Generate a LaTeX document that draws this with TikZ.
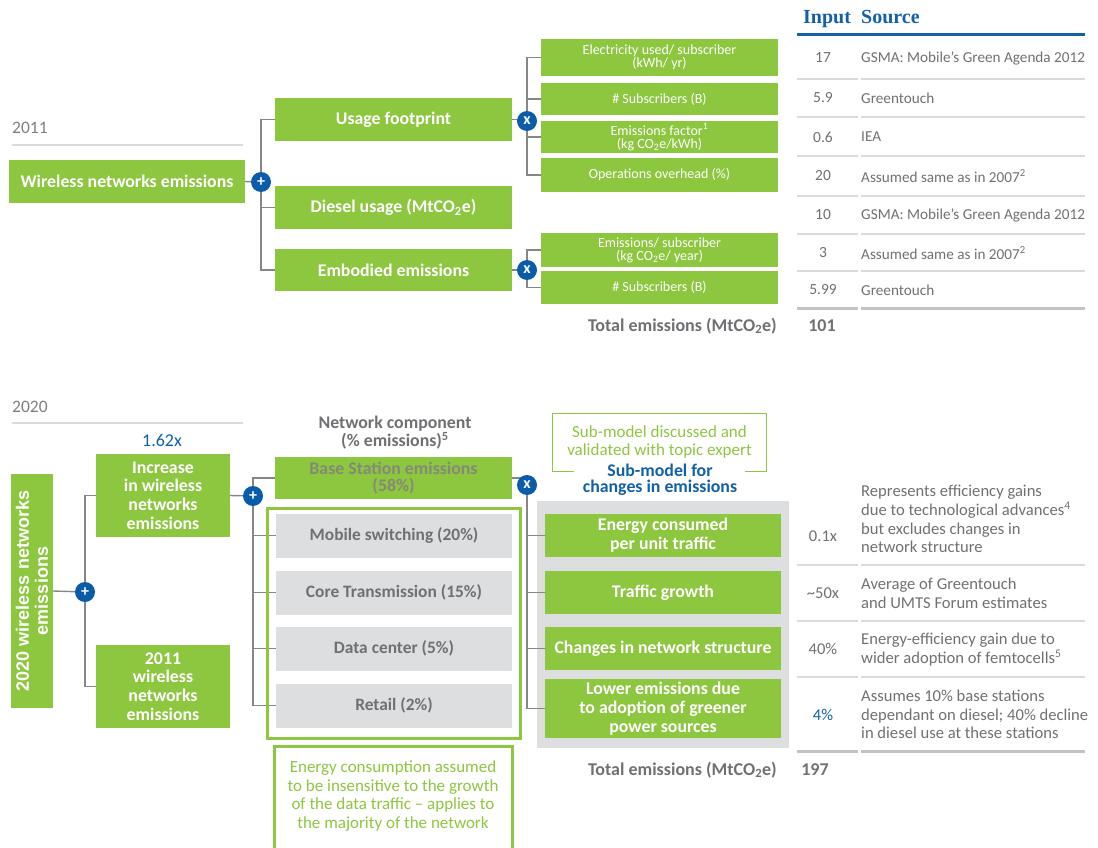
\documentclass[tikz,border=0pt]{standalone}
\usepackage{fontspec}
\setmainfont{Carlito}
\newfontfamily\arialf{Liberation Sans}
\newfontfamily\serff{Liberation Serif}
\usetikzlibrary{calc}
\definecolor{bgreen}{HTML}{8DC63F}
\definecolor{cblue}{HTML}{0A5CA8}
\definecolor{tblue}{HTML}{1260A8}
\definecolor{tgrey}{HTML}{6F7073}
\definecolor{ygrey}{HTML}{7D7E81}
\definecolor{lgrey}{HTML}{DDDEDF}
\definecolor{cgrey}{HTML}{85868A}
\definecolor{rgrey}{HTML}{DADBDC}
\definecolor{bgrey}{HTML}{C2C3C5}
\definecolor{bsgrey}{HTML}{858A78}
\pgfdeclarelayer{back}
\pgfdeclarelayer{wires}
\pgfsetlayers{back,wires,main}
\newcommand{\fsz}[2]{\fontsize{#1}{#2}\selectfont}
\tikzset{
  gb/.style={fill=bgreen,text=white,inner sep=0pt,align=center,font=\bfseries\fsz{17.8}{18.8}},
  sb/.style={fill=bgreen,text=white,inner sep=0pt,align=center,font=\fsz{14}{13},minimum width=237},
  gr/.style={fill=lgrey,text=tgrey,inner sep=0pt,align=center,font=\bfseries\fsz{17.4}{18},minimum width=236,minimum height=44},
  op/.style={circle,fill=cblue,text=white,inner sep=0pt,minimum size=20,font=\bfseries\fsz{16}{16}},
  wire/.style={draw=cgrey,line width=1.4},
  trule/.style={draw=rgrey,line width=2.2},
  brule/.style={draw=bgrey,line width=3},
  yrule/.style={draw=rgrey,line width=2.6},
  tv/.style={text=tgrey,font=\fsz{15.5}{15.5},inner sep=0pt},
  ts/.style={text=tgrey,font=\fsz{15.2}{18.6},inner sep=0pt,anchor=west,align=left},
  tsb/.style={text=tgrey,font=\fsz{16.6}{18.7},inner sep=0pt,anchor=west,align=left},
  tot/.style={text=tgrey,font=\bfseries\fsz{18}{18},inner sep=0pt},
  gnote/.style={text=bgreen,font=\fsz{17}{18.6},inner sep=0pt,align=center},
}
\begin{document}
\begin{tikzpicture}[x=1pt,y=-1pt]
\useasboundingbox (0,0) rectangle (1098,848);

%% ---------------- 2011 ----------------
\node[anchor=west,text=ygrey,font=\fsz{17.5}{17.5},inner sep=0pt] (y11) at (12,128) {2011};
\draw[yrule] (12,145) -- (243,145);

\node[gb,minimum width=236,minimum height=43] (wne) at (127,181.5) {Wireless networks emissions};
\node[op] (p1) at (261,182) {+};
\node[gb,minimum width=237,minimum height=43] (uf) at (393.5,119.5) {Usage footprint};
\node[gb,minimum width=237,minimum height=43] (du) at (393.5,207.5) {Diesel usage (MtCO\textsubscript{2}e)};
\node[gb,minimum width=237,minimum height=42] (ee) at (393.5,270) {Embodied emissions};
\node[op] (x1) at (527,121) {x};
\node[op] (x3) at (527,270) {x};

\node[sb,minimum height=37] (e1) at (659.5,57.5) {Electricity used/ subscriber\\(kWh/ yr)};
\node[sb,minimum height=32] (e2) at (659.5,99) {\# Subscribers (B)};
\node[sb,minimum height=32] (e3) at (659.5,137) {Emissions factor\textsuperscript{1}\\(kg CO\textsubscript{2}e/kWh)};
\node[sb,minimum height=34] (e4) at (659.5,175) {Operations overhead (\%)};
\node[sb,minimum height=34] (e5) at (659.5,250) {Emissions/ subscriber\\(kg CO\textsubscript{2}e/ year)};
\node[sb,minimum height=33] (e6) at (659.5,287.5) {\# Subscribers (B)};

\begin{pgfonlayer}{wires}
\draw[wire] (wne.east) -- (p1);
\draw[wire] (uf.west) -| (p1) |- (ee.west);
\draw[wire] (p1) |- (du.west);
\draw[wire] (uf.east) -| (x1);
\draw[wire] (e1.west) -| (x1) |- (e4.west);
\draw[wire] (x1) |- (e2.west);
\draw[wire] (x1) |- (e3.west);
\draw[wire] (ee.east) -- (x3);
\draw[wire] (e5.west) -| (x3) |- (e6.west);
\end{pgfonlayer}

% table 2011
\node[anchor=base west,text=tblue,font=\serff\bfseries\fsz{20}{20},inner sep=0pt] (hin) at (803,24) {Input};
\node[anchor=base west,text=tblue,font=\serff\bfseries\fsz{20}{20},inner sep=0pt] (hsrc) at (861,24) {Source};
\draw[draw=tblue,line width=3] (797,35) -- (1085,35);
\foreach \v/\y/\s [count=\i] in {
  17/58/{GSMA: Mobile’s Green Agenda 2012},
  5.9/98/{Greentouch},
  0.6/137/{IEA},
  20/176/{Assumed same as in 2007\textsuperscript{2}},
  10/215/{GSMA: Mobile’s Green Agenda 2012},
  3/253/{Assumed same as in 2007\textsuperscript{2}},
  5.99/290/{Greentouch}} {
  \node[tv] (va\i) at (823,\y) {\v};
  \node[ts] (sa\i) at (861,\y) {\s};
}
\foreach \y in {79,117,156,196,234,271} {
  \draw[trule] (797,\y) -- (858,\y);
  \draw[trule] (861,\y) -- (1085,\y);
}
\draw[brule] (797,308) -- (858,308);
\draw[brule] (861,308) -- (1085,308);
\node[tot,anchor=east] (tota) at (777,326) {Total emissions (MtCO\textsubscript{2}e)};
\node[tot] (tva) at (822,326) {101};

%% ---------------- 2020 ----------------
\node[anchor=west,text=ygrey,font=\fsz{17.5}{17.5},inner sep=0pt] (y20) at (12,407) {2020};
\draw[yrule] (12,423) -- (243,423);

\node[gb,rotate=90,minimum width=234,minimum height=42,font=\arialf\bfseries\fsz{18}{19}] (v20) at (32,591) {2020 wireless networks\\emissions};
\node[op] (p2) at (85,592) {+};
\node[text=tblue,font=\fsz{18}{18},inner sep=0pt] (f162) at (162,440) {1.62x};
\node[gb,minimum width=134,minimum height=83] (inc) at (163,495.5) {Increase\\in wireless\\networks\\emissions};
\node[gb,minimum width=134,minimum height=83] (old) at (163,686.5) {2011\\wireless\\networks\\emissions};
\node[op] (p3) at (253,496) {+};

\node[text=tgrey,font=\bfseries\fsz{17.8}{16.2},align=center,inner sep=0pt] (nc) at (395,433) {Network component\\(\% emissions)\textsuperscript{5}};
\node[gb,minimum width=237,minimum height=42,text=bsgrey,font=\bfseries\fsz{17.8}{17}] (bs) at (393.5,478) {Base Station emissions\\(58\%)};
\node[draw=bgreen,line width=3,minimum width=253,minimum height=230,inner sep=0pt] (gout) at (393.5,623) {};
\node[gr] (ms) at (394,535.5) {Mobile switching (20\%)};
\node[gr] (ct) at (394,592.5) {Core Transmission (15\%)};
\node[gr] (dc) at (394,648.5) {Data center (5\%)};
\node[gr] (rt) at (394,705.5) {Retail (2\%)};

\node[gnote] (enote) at (393,796) {Energy consumption assumed\\to be insensitive to the growth\\of the data traffic -- applies to\\the majority of the network};
\draw[draw=bgreen,line width=3] (274,848) -- (274,746) -- (512,746) -- (512,848);

\node[op] (x2) at (527,485) {x};

\node[gnote] (smnote) at (659.5,442) {Sub-model discussed and\\validated with topic expert};
\draw[draw=bgreen,line width=1.2] (574,471.5) -- (552.5,471.5) -- (552.5,413.5) -- (766.5,413.5) -- (766.5,471.5) -- (745,471.5);
\node[text=tblue,font=\bfseries\fsz{17.8}{16.5},align=center,inner sep=0pt] (smt) at (660,480) {Sub-model for\\changes in emissions};

\begin{pgfonlayer}{back}
\node[fill=lgrey,minimum width=252,minimum height=247,inner sep=0pt] (sbg) at (663,624.5) {};
\end{pgfonlayer}
\node[gb,minimum width=236,minimum height=43] (c1) at (663,535.5) {Energy consumed\\per unit traffic};
\node[gb,minimum width=236,minimum height=43] (c2) at (663,592.5) {Traffic growth};
\node[gb,minimum width=236,minimum height=43] (c3) at (663,648.5) {Changes in network structure};
\node[gb,minimum width=236,minimum height=59] (c4) at (663,708.5) {Lower emissions due\\to adoption of greener\\power sources};

\begin{pgfonlayer}{wires}
\draw[wire] (v20.south) -- (p2);
\draw[wire] (inc.west) -| (p2) |- (old.west);
\draw[wire] (inc.east) -- (p3);
\draw[wire] (bs.west) -| (p3) |- (rt.west);
\draw[wire] (p3) |- (ms.west);
\draw[wire] (p3) |- (ct.west);
\draw[wire] (p3) |- (dc.west);
\draw[wire] (bs.east) -| (x2);
\draw[wire] (x2) |- (c4.west);
\draw[wire] (x2) |- (c1.west);
\draw[wire] (x2) |- (c2.west);
\draw[wire] (x2) |- (c3.west);
\end{pgfonlayer}

% table 2020
\node[tv,font=\fsz{16.5}{16.5}] (vb1) at (823,536) {0.1x};
\node[tv,font=\fsz{16.5}{16.5}] (vb2) at (823,593) {\textasciitilde50x};
\node[tv,font=\fsz{16.5}{16.5}] (vb3) at (823,649) {40\%};
\node[tv,font=\fsz{16.5}{16.5},text=tblue] (vb4) at (823,715) {4\%};
\node[tsb] (sb1) at (861,519) {Represents efficiency gains\\due to technological advances\textsuperscript{4}\\but excludes changes in\\network structure};
\node[tsb] (sb2) at (861,593.5) {Average of Greentouch\\and UMTS Forum estimates};
\node[tsb] (sb3) at (861,649.5) {Energy-efficiency gain due to\\wider adoption of femtocells\textsuperscript{5}};
\node[tsb] (sb4) at (861,714.5) {Assumes 10\% base stations\\dependant on diesel; 40\% decline\\in diesel use at these stations};
\foreach \y in {565,621,677} {
  \draw[trule] (797,\y) -- (858,\y);
  \draw[trule] (861,\y) -- (1085,\y);
}
\draw[brule] (797,751) -- (858,751);
\draw[brule] (861,751) -- (1085,751);
\node[tot,anchor=east] (totb) at (777,770) {Total emissions (MtCO\textsubscript{2}e)};
\node[tot] (tvb) at (815,770) {197};
\end{tikzpicture}
\end{document}
